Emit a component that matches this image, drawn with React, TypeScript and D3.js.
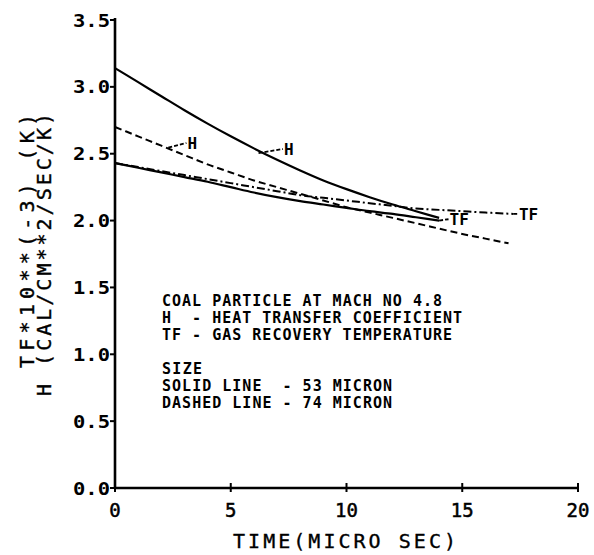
import React from "react";
import * as d3 from "d3";

// ---- data ----
const tH53 = [0, 1, 2, 3, 4, 5, 6, 7, 8, 9, 10, 11, 12, 13, 14];
const vH53 = [3.14, 3.035, 2.93, 2.825, 2.725, 2.63, 2.54, 2.455, 2.375, 2.3, 2.235, 2.175, 2.12, 2.07, 2.02];

const tTF53 = [0, 1, 2, 3, 4, 5, 6, 7, 8, 9, 10, 11, 12, 13, 14];
const vTF53 = [2.43, 2.395, 2.36, 2.325, 2.29, 2.25, 2.21, 2.175, 2.145, 2.12, 2.095, 2.07, 2.05, 2.025, 2.0];

const tH74 = [0, 1, 2, 3, 4, 5, 6, 7, 8, 9, 10, 11, 12, 13, 14, 15, 16, 17];
const vH74 = [2.7, 2.63, 2.56, 2.49, 2.42, 2.36, 2.3, 2.25, 2.2, 2.15, 2.1, 2.06, 2.02, 1.98, 1.94, 1.9, 1.865, 1.83];

const tTF74 = [0, 1, 2, 3, 4, 5, 6, 7, 8, 9, 10, 11, 12, 13, 14, 15, 16, 17.2];
const vTF74 = [2.43, 2.4, 2.37, 2.34, 2.31, 2.28, 2.25, 2.22, 2.19, 2.17, 2.15, 2.13, 2.11, 2.09, 2.08, 2.07, 2.06, 2.05];

const xTicks = [0, 5, 10, 15, 20];
const yTicks = [0, 0.5, 1.0, 1.5, 2.0, 2.5, 3.0, 3.5];
const yTickLabels = ["0.0", "0.5", "1.0", "1.5", "2.0", "2.5", "3.0", "3.5"];

const xTitle = "TIME(MICRO SEC)";
const yTitle1 = "TF*10**(-3) (K)";
const yTitle2 = "H (CAL/CM**2/SEC/K)";

const noteLines = [
  "COAL PARTICLE AT MACH NO 4.8",
  "H  - HEAT TRANSFER COEFFICIENT",
  "TF - GAS RECOVERY TEMPERATURE",
  "",
  "SIZE",
  "SOLID LINE  - 53 MICRON",
  "DASHED LINE - 74 MICRON",
];

// curve labels: [text, leader start t, leader start v, label t, label v]
const curveLabels: [string, number, number, number, number][] = [
  ["H", 2.3, 2.545, 3.13, 2.58],
  ["H", 6.2, 2.505, 7.3, 2.535],
  ["TF", 14.0, 2.0, 14.45, 2.01],
  ["TF", 17.2, 2.05, 17.45, 2.05],
];

const MONO = "'DejaVu Sans Mono', 'Liberation Mono', monospace";

export default function App() {
  const W = 594, H = 555;
  const x = d3.scaleLinear().domain([0, 20]).range([115, 578]);
  const y = d3.scaleLinear().domain([0, 3.5]).range([488, 20]);

  const mk = (ts: number[], vs: number[]) =>
    d3
      .line<number>()
      .x((_, i) => x(ts[i]))
      .y((v) => y(v))
      .curve(d3.curveMonotoneX)(vs) as string;

  return (
    <svg
      width={W}
      height={H}
      style={{ position: "absolute", left: 0, top: 0, background: "#fff" }}
    >
      <rect x={0} y={0} width={W} height={H} fill="#fff" />
      {/* curves */}
      <path d={mk(tH53, vH53)} fill="none" stroke="#000" strokeWidth={2.2} />
      <path d={mk(tTF53, vTF53)} fill="none" stroke="#000" strokeWidth={2.2} />
      <path d={mk(tH74, vH74)} fill="none" stroke="#000" strokeWidth={2} strokeDasharray="7,4" />
      <path d={mk(tTF74, vTF74)} fill="none" stroke="#000" strokeWidth={2} strokeDasharray="8,3,2,3" />

      {/* curve labels */}
      {curveLabels.map(([txt, t0, v0, t1, v1], i) => (
        <g key={i}>
          <line
            x1={x(t0)}
            y1={y(v0)}
            x2={x(t1) - 1}
            y2={y(v1)}
            stroke="#000"
            strokeWidth={1.8}
            strokeDasharray="4,2"
          />
          <text
            x={x(t1)}
            y={y(v1) + 6}
            fontFamily={MONO}
            fontWeight="bold"
            fontSize={16}
            fill="#000"
          >
            {txt}
          </text>
        </g>
      ))}

      {/* axes */}
      <line x1={x(0)} y1={y(3.5) - 2} x2={x(0)} y2={y(0)} stroke="#000" strokeWidth={2.6} />
      <line x1={x(0)} y1={y(0)} x2={x(20)} y2={y(0)} stroke="#000" strokeWidth={2.6} />
      {yTicks.map((v, i) => (
        <g key={"y" + i}>
          <line x1={x(0) - 5} x2={x(0)} y1={y(v)} y2={y(v)} stroke="#000" strokeWidth={2} />
          <text
            x={110}
            y={y(v) + 6.5}
            textAnchor="end"
            fontFamily={MONO}
            fontWeight="bold"
            fontSize={18}
            textLength={37}
            lengthAdjust="spacingAndGlyphs"
            fill="#000"
          >
            {yTickLabels[i]}
          </text>
        </g>
      ))}
      {xTicks.map((t, i) => (
        <g key={"x" + i}>
          <line x1={x(t)} x2={x(t)} y1={y(0) - 5} y2={y(0) + 4} stroke="#000" strokeWidth={2} />
          <text
            x={x(t)}
            y={517}
            textAnchor="middle"
            fontFamily={MONO}
            fontSize={19}
            stroke="#000"
            strokeWidth={0.5}
            fill="#000"
          >
            {t}
          </text>
        </g>
      ))}

      {/* axis titles */}
      <text
        x={233}
        y={548}
        fontFamily={MONO}
        fontSize={20}
        textLength={223}
        lengthAdjust="spacing"
        stroke="#000"
        strokeWidth={0.35}
        fill="#000"
      >
        {xTitle}
      </text>
      <text
        transform={`translate(34,368) rotate(-90)`}
        fontFamily={MONO}
        fontSize={20}
        textLength={254}
        lengthAdjust="spacing"
        stroke="#000"
        strokeWidth={0.4}
        fill="#000"
      >
        {yTitle1}
      </text>
      <text
        transform={`translate(51,396) rotate(-90)`}
        fontFamily={MONO}
        fontSize={20}
        textLength={283}
        lengthAdjust="spacing"
        stroke="#000"
        strokeWidth={0.4}
        fill="#000"
      >
        {yTitle2}
      </text>

      {/* annotation block */}
      {noteLines.map((s, i) =>
        s ? (
          <text
            key={"n" + i}
            x={162}
            y={306 + i * 17}
            fontFamily={MONO}
            fontWeight="bold"
            fontSize={15}
            textLength={s.length * 10}
            lengthAdjust="spacing"
            fill="#000"
            style={{ whiteSpace: "pre" }}
          >
            {s}
          </text>
        ) : null
      )}
    </svg>
  );
}
